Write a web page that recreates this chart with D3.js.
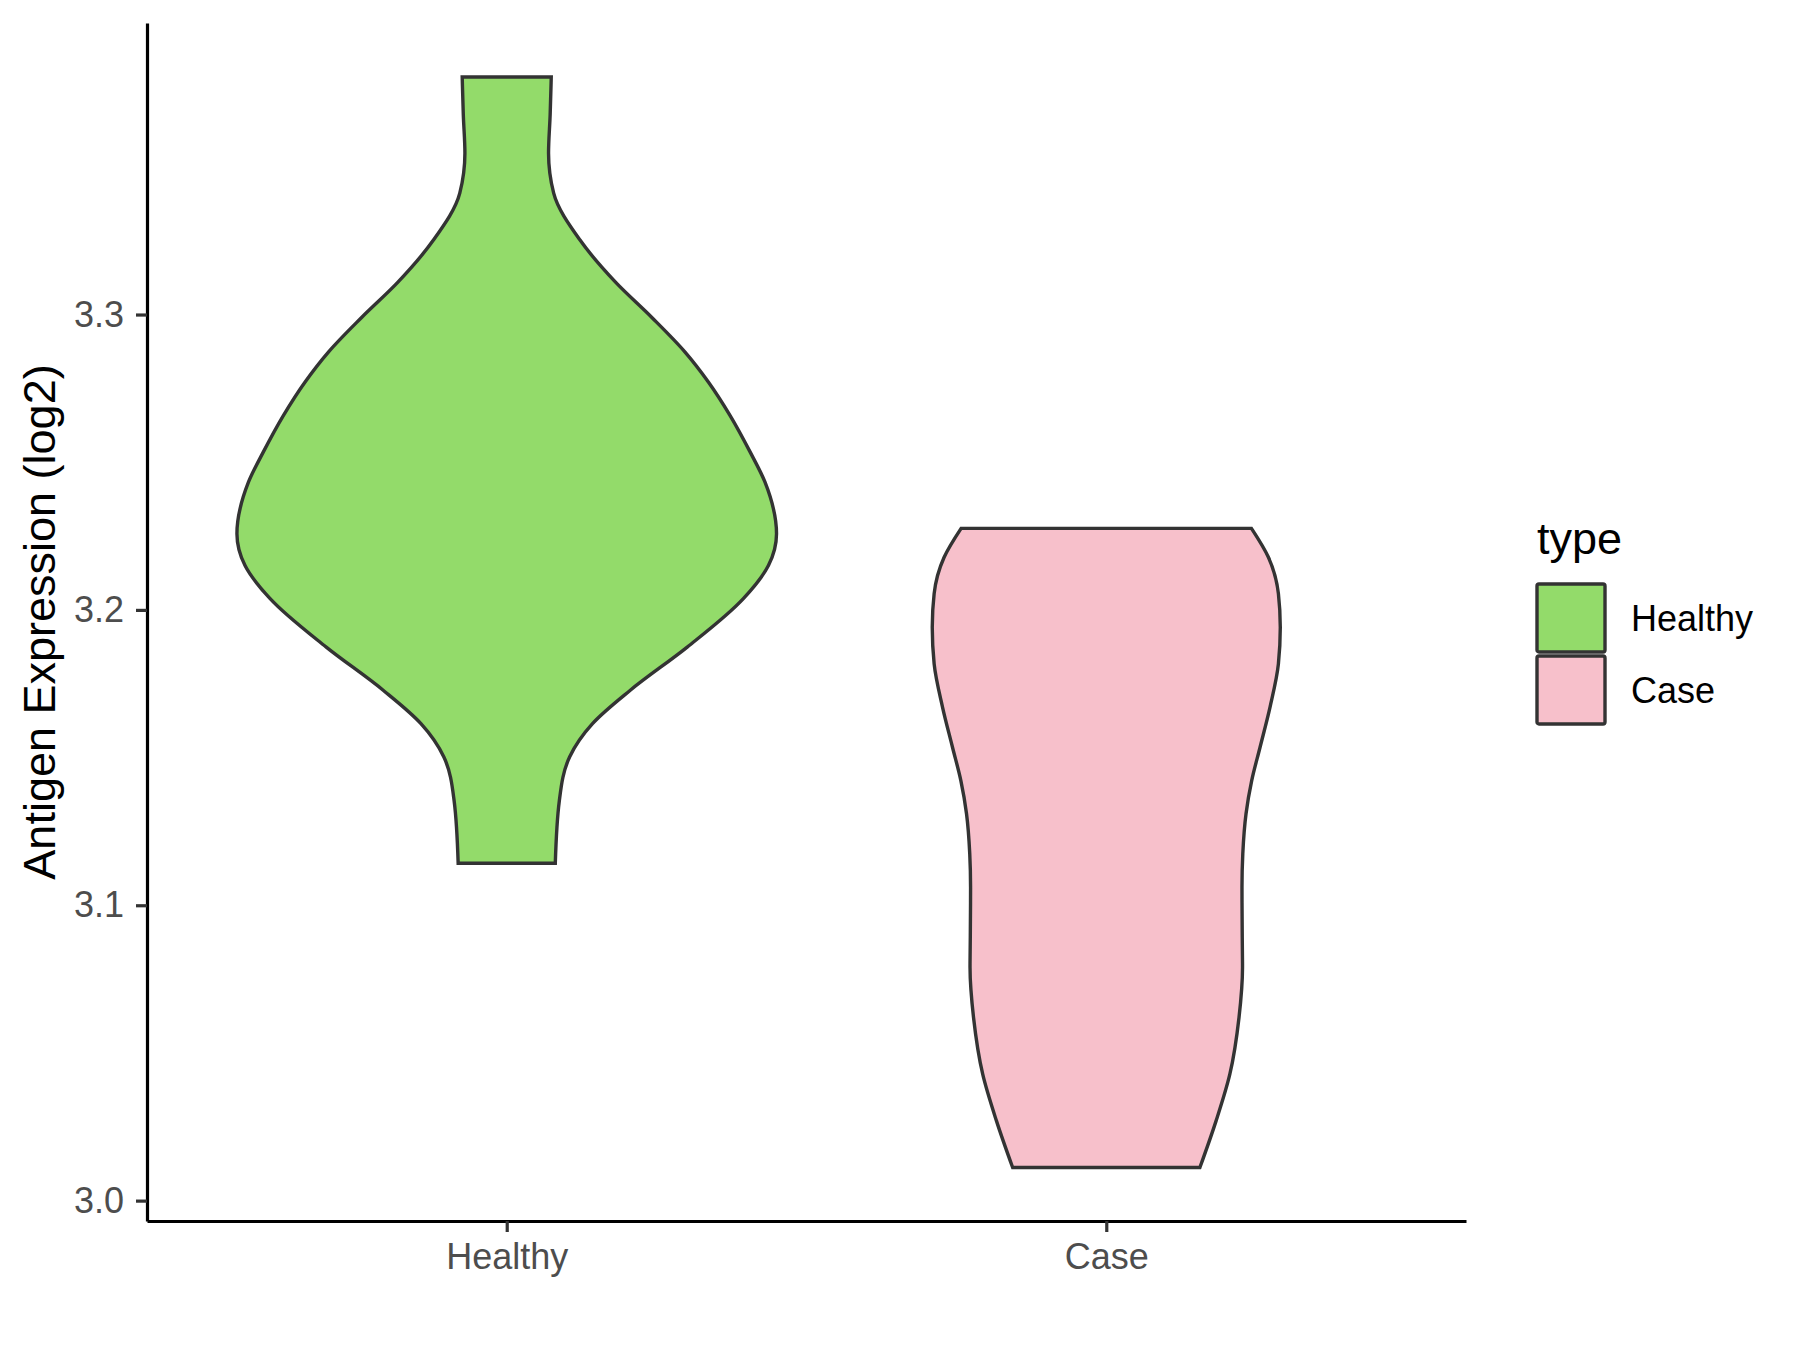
<!DOCTYPE html>
<html>
<head>
<meta charset="utf-8">
<script src="https://cdn.jsdelivr.net/npm/d3@7"></script>
<style>
  body { margin: 0; background: #ffffff; }
  text { font-family: "Liberation Sans", Arial, sans-serif; }
</style>
</head>
<body>
<div id="chart"></div>
<script>
// categories and colours
var categories = ["Healthy", "Case"];
var fillColors = ["#93DB6A", "#F7C0CB"];

// violin outline: y value and relative half width (1 = widest)
var healthyValues = [3.3804, 3.3677, 3.3546, 3.3411, 3.3253, 3.3108, 3.2991, 3.2873, 3.2771, 3.2658, 3.2535, 3.2433, 3.2258, 3.2150, 3.2038, 3.1874, 3.1728, 3.1615, 3.1502, 3.1354, 3.1142];
var healthyWidths = [0.165, 0.161, 0.155, 0.174, 0.271, 0.405, 0.537, 0.661, 0.748, 0.828, 0.902, 0.957, 1.0, 0.970, 0.877, 0.669, 0.458, 0.318, 0.233, 0.195, 0.180];

var caseValues = [3.2276, 3.2178, 3.2055, 3.1941, 3.1817, 3.1671, 3.1535, 3.1422, 3.1310, 3.1174, 3.1061, 3.0892, 3.0790, 3.0620, 3.0428, 3.0270, 3.0112];
var caseWidths = [0.538, 0.601, 0.638, 0.645, 0.638, 0.607, 0.570, 0.539, 0.518, 0.506, 0.503, 0.504, 0.505, 0.492, 0.458, 0.407, 0.347];

// y axis
var yTicks = [3.0, 3.1, 3.2, 3.3];
var yDomain = [2.9931, 3.3987];

var yTitle = "Antigen Expression (log2)";
var legendTitle = "type";

// svg params
var svgWidth = 1800;
var svgHeight = 1350;

// panel edges
var panel = { left: 147, right: 1466, top: 23, bottom: 1221 };

var svg = d3.select("#chart")
    .append("svg")
    .attr("width", svgWidth)
    .attr("height", svgHeight);

/// scales
var xScale = d3.scalePoint()
    .domain(categories)
    .range([panel.left, panel.right])
    .padding(0.6);

var yScale = d3.scaleLinear()
    .domain(yDomain)
    .range([panel.bottom, panel.top]);

// max half width of a violin = 0.45 of a category step
var halfMax = xScale.step() * 0.45;

var violinData = [
    { name: categories[0], values: healthyValues, widths: healthyWidths, fill: fillColors[0] },
    { name: categories[1], values: caseValues, widths: caseWidths, fill: fillColors[1] }
];

/// draw violins
violinData.forEach(function(v) {
    var cx = xScale(v.name);
    var pts = v.values.map(function(val, i) { return { y: val, w: v.widths[i] }; });

    var area = d3.area()
        .x0(function(d) { return cx - d.w * halfMax; })
        .x1(function(d) { return cx + d.w * halfMax; })
        .y(function(d) { return yScale(d.y); })
        .curve(d3.curveMonotoneY);

    svg.append("path")
        .datum(pts)
        .attr("d", area)
        .attr("fill", v.fill)
        .attr("stroke", "#333333")
        .attr("stroke-width", 3.4)
        .attr("stroke-linejoin", "miter");
});

/// y axis
var yAxisG = svg.append("g")
    .attr("transform", `translate(${panel.left},0)`)
    .call(d3.axisLeft(yScale)
        .tickValues(yTicks)
        .tickFormat(d3.format(".1f"))
        .tickSize(11)
        .tickSizeOuter(0)
        .tickPadding(12));

yAxisG.select(".domain").attr("stroke", "#000000").attr("stroke-width", 3.2);
yAxisG.selectAll(".tick line").attr("stroke", "#333333").attr("stroke-width", 3.2);
yAxisG.selectAll(".tick text")
    .attr("fill", "#4D4D4D")
    .style("font-size", "36px");

/// x axis
var xAxisG = svg.append("g")
    .attr("transform", `translate(0,${panel.bottom})`)
    .call(d3.axisBottom(xScale)
        .tickSize(11)
        .tickSizeOuter(0)
        .tickPadding(11));

xAxisG.select(".domain").attr("stroke", "#000000").attr("stroke-width", 3.2);
xAxisG.selectAll(".tick line").attr("stroke", "#333333").attr("stroke-width", 3.2);
xAxisG.selectAll(".tick text")
    .attr("fill", "#4D4D4D")
    .style("font-size", "36px");

/// y axis title
svg.append("text")
    .attr("transform", `translate(55,${(panel.top + panel.bottom) / 2}) rotate(-90)`)
    .attr("text-anchor", "middle")
    .attr("fill", "#000000")
    .style("font-size", "45px")
    .text(yTitle);

/// legend
var legend = svg.append("g")
    .attr("transform", "translate(1537,0)");

legend.append("text")
    .attr("x", 0)
    .attr("y", 554)
    .attr("fill", "#000000")
    .style("font-size", "45px")
    .text(legendTitle);

categories.forEach(function(c, i) {
    var top = 584 + i * 72;
    legend.append("rect")
        .attr("x", 0)
        .attr("y", top)
        .attr("width", 68)
        .attr("height", 68)
        .attr("rx", 2)
        .attr("fill", fillColors[i])
        .attr("stroke", "#333333")
        .attr("stroke-width", 3.4);

    legend.append("text")
        .attr("x", 94)
        .attr("y", top + 34)
        .attr("dy", "0.35em")
        .attr("fill", "#000000")
        .style("font-size", "36px")
        .text(c);
});
</script>
</body>
</html>
